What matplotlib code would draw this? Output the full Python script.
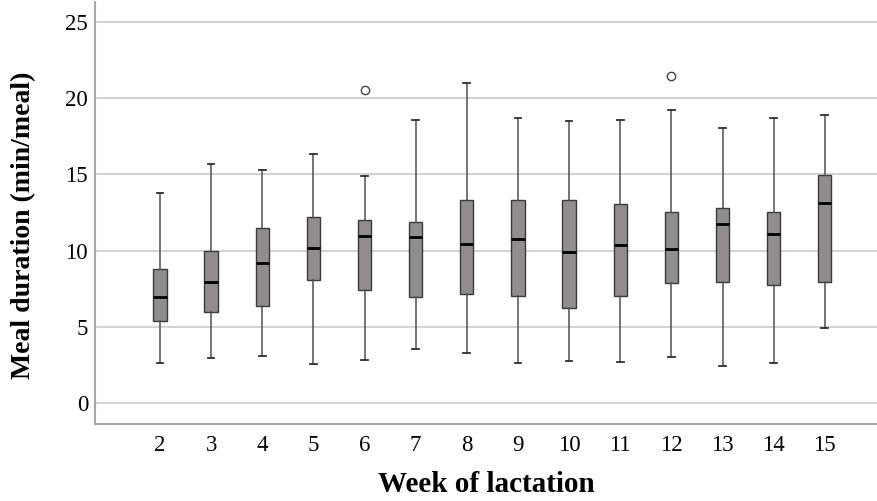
import matplotlib.pyplot as plt
import numpy as np

## data
weeks = [2, 3, 4, 5, 6, 7, 8, 9, 10, 11, 12, 13, 14, 15]
whisk_lo = [2.6, 2.97, 3.08, 2.56, 2.82, 3.52, 3.3, 2.62, 2.73, 2.69, 3.04, 2.45, 2.64, 4.92]
q1 = [5.4, 5.99, 6.34, 8.07, 7.41, 6.93, 7.15, 7.0, 6.23, 7.02, 7.85, 7.92, 7.72, 7.96]
med = [6.98, 7.96, 9.21, 10.15, 10.98, 10.87, 10.41, 10.78, 9.9, 10.34, 10.12, 11.72, 11.11, 13.12]
q3 = [8.79, 9.97, 11.46, 12.2, 12.0, 11.88, 13.32, 13.3, 13.3, 13.06, 12.51, 12.8, 12.51, 14.98]
whisk_hi = [13.8, 15.68, 15.29, 16.31, 14.9, 18.54, 21.0, 18.7, 18.52, 18.59, 19.2, 18.04, 18.72, 18.87]
outliers = {6: [20.51], 12: [21.46]}

plt.rcParams['font.family'] = ['Liberation Serif', 'DejaVu Serif']

fig = plt.figure(figsize=(8.78, 5.01), dpi=100)
ax = fig.add_axes([95/878, 1 - 424/501, 1 - 95/878, 422/501])

stats = []
for i, w in enumerate(weeks):
    stats.append(dict(whislo=whisk_lo[i], q1=q1[i], med=med[i], q3=q3[i],
                      whishi=whisk_hi[i], fliers=outliers.get(w, []), label=str(w)))

ax.bxp(stats, positions=weeks, widths=0.26, capwidths=0.13, patch_artist=True,
       boxprops=dict(facecolor='#918d8c', edgecolor='#3a3a3a', linewidth=1.0),
       medianprops=dict(color='black', linewidth=2.0),
       whiskerprops=dict(color='#505050', linewidth=1.1),
       capprops=dict(color='#303030', linewidth=1.3),
       flierprops=dict(marker='o', markerfacecolor='none', markeredgecolor='#444444',
                       markersize=6, markeredgewidth=1.0),
       zorder=3)

## pretty~
ax.set_xlim(0.73, 16.04)
ax.set_ylim(-1.38, 26.3)
ax.set_yticks([0, 5, 10, 15, 20, 25])
ax.grid(axis='y', color='#d4d4d4', linewidth=1.5, zorder=0)
ax.set_axisbelow(True)
for s in ['top', 'right']:
    ax.spines[s].set_visible(False)
for s in ['left', 'bottom']:
    ax.spines[s].set_color('#a8a8a8')
    ax.spines[s].set_linewidth(1.5)
ax.tick_params(length=0, labelsize=16.5)
ax.tick_params(axis='y', pad=5)
ax.tick_params(axis='x', pad=8)

ax.set_xlabel('Week of lactation', fontsize=21, fontweight='bold', labelpad=11)
ax.set_ylabel('Meal duration (min/meal)', fontsize=20, fontweight='bold')
ax.yaxis.set_label_coords(-0.075, 0.47)

fig.savefig('out.png', dpi=100)
